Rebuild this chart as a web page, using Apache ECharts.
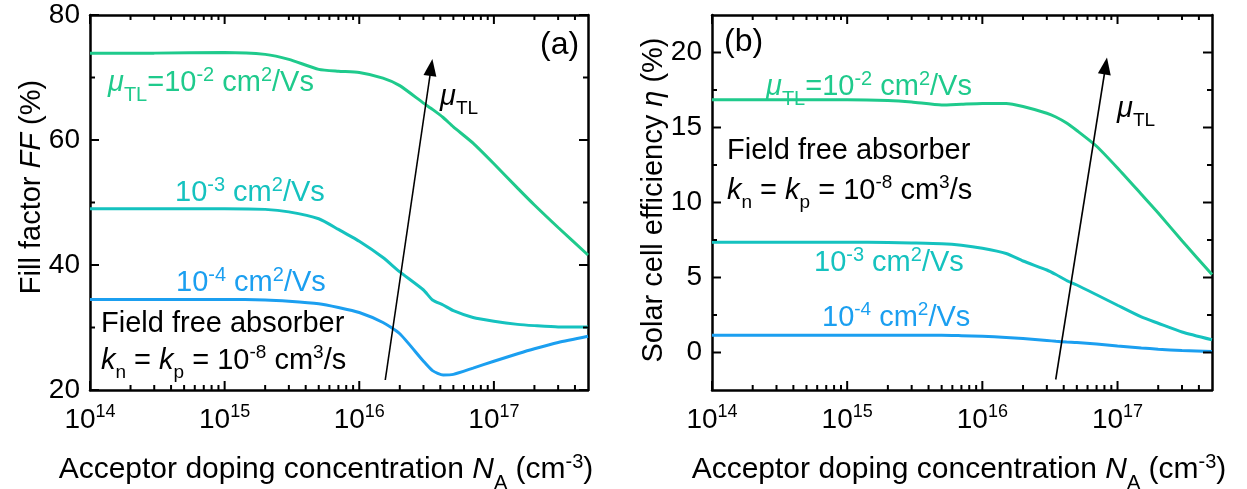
<!DOCTYPE html>
<html><head><meta charset="utf-8">
<script src="https://cdn.jsdelivr.net/npm/echarts@6/dist/echarts.min.js"></script>
<style>html,body{margin:0;padding:0;background:#fff}#c{width:1247px;height:489px}#err{position:absolute;left:600px;top:420px;font:11px monospace;color:red}</style>
</head><body><div id="c"></div><div id="err"></div>
<script>
window.onerror = function (m) { document.getElementById('err').textContent += ' ' + m; };
// ---------- data ----------
const NA = [1e14,3e14,1e15,2e15,3e15,5e15,7e15,1e16,1.5e16,2e16,3e16,3.5e16,4.2e16,5e16,7e16,1e17,1.5e17,2e17,3e17,5e17];
const FF_MU2 = [73.9,73.9,74.0,73.7,72.9,71.3,71.0,70.8,69.9,68.7,65.9,64.9,63.6,62.1,59.5,56.2,52.3,49.6,46.0,41.6];
const FF_MU3 = [49.0,49.0,49.0,48.9,48.5,47.4,45.7,43.8,41.2,38.9,36.0,34.4,33.6,32.7,31.6,31.0,30.5,30.3,30.1,30.1];
const FF_MU4 = [34.5,34.5,34.5,34.4,34.2,33.8,33.2,32.4,30.8,29.0,24.6,23.1,22.4,22.5,23.5,24.6,25.8,26.6,27.6,28.6];
const ETA_MU2 = [16.85,16.85,16.85,16.8,16.7,16.5,16.55,16.6,16.6,16.4,15.95,15.7,15.3,14.8,13.75,12.3,10.55,9.3,7.45,5.2];
const ETA_MU3 = [7.35,7.35,7.35,7.33,7.3,7.25,7.15,6.95,6.6,6.1,5.5,5.2,4.8,4.5,3.85,3.15,2.37,1.95,1.37,0.85];
const ETA_MU4 = [1.15,1.15,1.15,1.15,1.15,1.15,1.12,1.08,1.0,0.93,0.8,0.75,0.7,0.67,0.57,0.43,0.3,0.22,0.13,0.07];
const ARROW_A = [[1.56e16, 21.6], [3.42e16, 71.6]];
const ARROW_B = [[3.49e16, -1.8], [8.17e16, 19.1]];
const X_MIN = 1e14, X_MAX = 5e17;
const X_MAJOR_EXP = [14, 15, 16, 17];
const X_MINOR_MULT = [2, 3, 4, 5, 6, 7, 8, 9];
const Y_A_RANGE = [20, 80], Y_A_MAJOR = [20, 40, 60, 80], Y_A_MINOR = [30, 50, 70];
const Y_B_RANGE = [-2.5, 22.5], Y_B_MAJOR = [0, 5, 10, 15, 20], Y_B_MINOR = [2.5, 7.5, 12.5, 17.5];

// ---------- style ----------
const FONT = '"Liberation Sans", Arial, Helvetica, sans-serif';
const GREEN = '#1fca8c', CYAN = '#15c2bf', BLUE = '#1b9ff0', BLACK = '#000';
const MAJOR_LEN = 9, MINOR_LEN = 5;

function rich(col, fs, fss) {
  fs = fs || 28; fss = fss || 18;
  const base = {fontSize: fs, fontFamily: FONT, lineHeight: fs, padding: [4, 0, 0, 0], verticalAlign: 'top', color: col, fill: col};
  return {
    n: base,
    i: Object.assign({}, base, {fontStyle: 'italic'}),
    sup: {fontSize: fss, fontFamily: FONT, lineHeight: fss, padding: [1, 0, 0, 0], verticalAlign: 'top', color: col, fill: col},
    sub: {fontSize: fss, fontFamily: FONT, lineHeight: fss, padding: [Math.round(fs * 0.72), 0, 0, 0], verticalAlign: 'top', color: col, fill: col}
  };
}

const LOG_MIN = Math.log10(X_MIN), LOG_MAX = Math.log10(X_MAX);
const X_MAJOR = X_MAJOR_EXP.map(e => Math.pow(10, e));
const X_MINOR = [];
X_MAJOR.forEach(p => X_MINOR_MULT.forEach(m => { if (m * p < X_MAX) X_MINOR.push(m * p); }));

const grids = [
  {left: 90, top: 15, width: 498, height: 375},
  {left: 712, top: 15, width: 500, height: 375}
];
const mkLine = () => ({show: true, onZero: false, lineStyle: {color: BLACK, width: 2.5}});

function xAxes(g) {
  const c = () => ({type: 'value', gridIndex: g, min: LOG_MIN, max: LOG_MAX, splitLine: {show: false}, axisTick: {show: false}});
  return [
    {type: 'log', logBase: 10, gridIndex: g, min: X_MIN, max: X_MAX, show: false, axisLine: {show: false, onZero: false}},
    Object.assign(c(), {position: 'bottom', axisLine: mkLine(),
      axisLabel: {show: true, margin: 12, customValues: X_MAJOR_EXP,
        formatter: v => '{n|10}{sup|' + Math.round(v) + '}', rich: rich(BLACK)}}),
    Object.assign(c(), {position: 'top', axisLine: mkLine(), axisLabel: {show: false}})
  ];
}
function yAxes(g, range, major) {
  const c = () => ({type: 'value', gridIndex: g, min: range[0], max: range[1], splitLine: {show: false}, axisTick: {show: false}});
  return [
    Object.assign(c(), {position: 'left', axisLine: mkLine(),
      axisLabel: {show: true, margin: 10, customValues: major, fontSize: 28, fontFamily: FONT, color: BLACK}}),
    Object.assign(c(), {position: 'right', axisLine: mkLine(), axisLabel: {show: false}})
  ];
}

function lineSeries(xi, yi, vals, col, arrow) {
  const s = {
    type: 'line', xAxisIndex: xi, yAxisIndex: yi, data: NA.map((x, i) => [x, vals[i]]),
    showSymbol: false, smooth: 0.2, lineStyle: {color: col, width: 3}, itemStyle: {color: col},
    silent: true, z: 3
  };
  if (arrow) {
    s.markLine = {
      silent: true, symbol: ['none', 'triangle'], symbolSize: [13, 17],
      label: {show: false}, lineStyle: {color: BLACK, width: 1.6, type: 'solid'}, itemStyle: {color: BLACK},
      emphasis: {disabled: true},
      data: [[{coord: arrow[0]}, {coord: arrow[1]}]]
    };
  }
  return s;
}

function txt(x, y, str, col, fs, fss) {
  return {
    type: 'text', x: x, y: y, silent: true, z: 10,
    style: {text: str, rich: rich(col, fs, fss), fill: col, font: (fs || 28) + 'px ' + FONT, textAlign: 'left', textVerticalAlign: 'top'}
  };
}
function title(x, y, str, fs, rot) {
  return {
    type: 'text', x: x, y: y, rotation: rot || 0, silent: true, z: 10,
    style: {text: str, rich: rich(BLACK, fs, Math.round(fs * 0.65)), fill: BLACK, font: fs + 'px ' + FONT, textAlign: 'center', textVerticalAlign: 'middle'}
  };
}

const mu = (tail) => '{i|μ}{sub|TL}' + (tail || '');
const L2 = mu('{n|=10}{sup|-2}{n| cm}{sup|2}{n|/Vs}');
const L3 = '{n|10}{sup|-3}{n| cm}{sup|2}{n|/Vs}';
const L4 = '{n|10}{sup|-4}{n| cm}{sup|2}{n|/Vs}';
const FFA = '{n|Field free absorber}';
const KK = '{i|k}{sub|n}{n| = }{i|k}{sub|p}{n| = 10}{sup|-8}{n| cm}{sup|3}{n|/s}';
const XT = '{n|Acceptor doping concentration }{i|N}{sub|A}{n| (cm}{sup|-3}{n|)}';
const graphics = [
  txt(108, 64, L2, GREEN, 29, 20),
  txt(175, 174, L3, CYAN, 29, 20),
  txt(176, 264, L4, BLUE, 29, 20),
  txt(101, 305, FFA, BLACK, 29, 19),
  txt(101, 342, KK, BLACK, 29, 19),
  txt(540, 25, '{n|(a)}', BLACK, 32, 20),
  txt(440, 78, mu(), BLACK, 29, 19),
  txt(724, 22, '{n|(b)}', BLACK, 32, 20),
  txt(766, 68, L2, GREEN, 29, 20),
  txt(727, 132, FFA, BLACK, 29, 19),
  txt(727, 172, KK, BLACK, 29, 19),
  txt(814, 244, L3, CYAN, 29, 20),
  txt(822, 299, L4, BLUE, 29, 19),
  txt(1117, 90, mu(), BLACK, 29, 19),
  title(28, 187, '{n|Fill factor }{i|FF}{n| (%)}', 29, Math.PI / 2),
  title(650, 200, '{n|Solar cell efficiency }{i|η}{n| (%)}', 29, Math.PI / 2),
  title(326, 466, XT, 30),
  title(959, 466, XT, 30)
];

const chart = echarts.init(document.getElementById('c'), null, {renderer: 'canvas'});
chart.setOption({
  animation: false,
  backgroundColor: '#fff',
  grid: grids,
  xAxis: xAxes(0).concat(xAxes(1)),
  yAxis: yAxes(0, Y_A_RANGE, Y_A_MAJOR).concat(yAxes(1, Y_B_RANGE, Y_B_MAJOR)),
  series: [
    lineSeries(0, 0, FF_MU2, GREEN, ARROW_A),
    lineSeries(0, 0, FF_MU3, CYAN),
    lineSeries(0, 0, FF_MU4, BLUE),
    lineSeries(3, 2, ETA_MU2, GREEN, ARROW_B),
    lineSeries(3, 2, ETA_MU3, CYAN),
    lineSeries(3, 2, ETA_MU4, BLUE)
  ],
  graphic: graphics
});

// inward tick marks on all four sides; positions come from the chart's own axis scales
function tickLines(xi, yi, yRange, yMajor, yMinor) {
  const out = [];
  const P = (x, y) => chart.convertToPixel({xAxisIndex: xi, yAxisIndex: yi}, [x, y]);
  const seg = (p, dx, dy, len) => {
    if (!p || !isFinite(p[0]) || !isFinite(p[1])) return;
    out.push({type: 'line', silent: true, z: 100,
      shape: {x1: p[0], y1: p[1], x2: p[0] + dx * len, y2: p[1] + dy * len},
      style: {stroke: BLACK, lineWidth: 2}});
  };
  const xt = (x, len) => { seg(P(x, yRange[0]), 0, -1, len); seg(P(x, yRange[1]), 0, 1, len); };
  const yt = (y, len) => { seg(P(X_MIN, y), 1, 0, len); seg(P(X_MAX, y), -1, 0, len); };
  X_MAJOR.forEach(x => xt(x, MAJOR_LEN));
  X_MINOR.forEach(x => xt(x, MINOR_LEN));
  yMajor.forEach(y => yt(y, MAJOR_LEN));
  yMinor.forEach(y => yt(y, MINOR_LEN));
  return out;
}
const ticks = tickLines(0, 0, Y_A_RANGE, Y_A_MAJOR, Y_A_MINOR).concat(tickLines(3, 2, Y_B_RANGE, Y_B_MAJOR, Y_B_MINOR));
chart.setOption({graphic: graphics.concat(ticks)});
</script>
</body></html>
